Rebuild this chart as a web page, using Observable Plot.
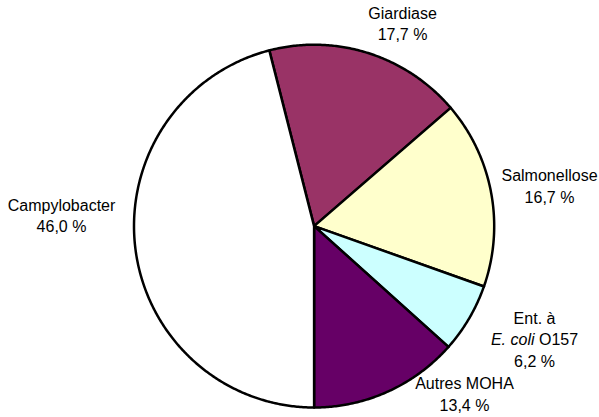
<!DOCTYPE html>
<html><head><meta charset="utf-8">
<script src="https://cdn.jsdelivr.net/npm/d3@7"></script>
<script src="https://cdn.jsdelivr.net/npm/@observablehq/plot@0.6"></script>
<style>body{margin:0;background:#fff}</style>
</head><body><div id="chart"></div>
<script>
// ---- data ----
const categories = ["Giardiase", "Salmonellose", "Ent. à E. coli O157", "Autres MOHA", "Campylobacter"];
const values = [17.7, 16.7, 6.2, 13.4, 46.0];
const colors = ["#993366", "#FFFFCC", "#CCFFFF", "#660066", "#FFFFFF"];
const labelLines = [
  [[{text: "Giardiase"}]],
  [[{text: "Salmonellose"}]],
  [[{text: "Ent. à"}], [{text: "E. coli", italic: true}, {text: "O157"}]],
  [[{text: "Autres MOHA"}]],
  [[{text: "Campylobacter"}]]
];

// ---- layout ----
const START = -14.4;            // degrees, clockwise from 12 o'clock
const LINE = 21.5;              // px between label lines
const FONT = "Liberation Sans, Arial, Helvetica, sans-serif";
const FS = 16;
const labelOffsets = [[34.4, -34.1], [58.4, -11.2], [65.4, 5.1], [76.8, -2.2], [-73.9, -38.3]];

const fmt = v => v.toFixed(1).replace(".", ",") + " %";
const rad = a => a * Math.PI / 180;
const total = d3.sum(values);

let acc = START;
const slices = categories.map((name, i) => {
  const a0 = acc, a1 = acc + values[i] / total * 360;
  acc = a1;
  return {name, a0, a1, mid: (a0 + a1) / 2, i};
});

const pts = [];
for (const s of slices) {
  pts.push({name: s.name, x: 0, y: 0});
  const n = Math.max(2, Math.ceil((s.a1 - s.a0) / 0.5));
  for (let k = 0; k <= n; ++k) {
    const a = rad(s.a0 + (s.a1 - s.a0) * k / n);
    pts.push({name: s.name, x: Math.sin(a), y: Math.cos(a)});
  }
  pts.push({name: s.name, x: 0, y: 0});
}

const ctx = document.createElement("canvas").getContext("2d");
const measure = (t, italic) => { ctx.font = `${italic ? "italic " : ""}${FS}px ${FONT}`; return ctx.measureText(t).width; };

const textMarks = [];
for (const s of slices) {
  const anchor = [{x: Math.sin(rad(s.mid)), y: Math.cos(rad(s.mid))}];
  const [ox, oy] = labelOffsets[s.i];
  const lines = [...labelLines[s.i], [{text: fmt(values[s.i])}]];
  lines.forEach((segs, li) => {
    const dy = oy + li * LINE;
    if (segs.length === 1) {
      textMarks.push(Plot.text(anchor, {x: "x", y: "y", text: () => segs[0].text, dx: ox, dy,
        textAnchor: "middle", lineAnchor: "bottom", fontSize: FS, fontFamily: FONT,
        fontStyle: segs[0].italic ? "italic" : "normal", fill: "#000"}));
    } else {
      const sp = measure(" ", false);
      const widths = segs.map(g => measure(g.text, g.italic));
      const W = d3.sum(widths) + sp * (segs.length - 1);
      let x0 = -W / 2;
      segs.forEach((g, gi) => {
        textMarks.push(Plot.text(anchor, {x: "x", y: "y", text: () => g.text, dx: ox + x0, dy,
          textAnchor: "start", lineAnchor: "bottom", fontSize: FS, fontFamily: FONT,
          fontStyle: g.italic ? "italic" : "normal", fill: "#000"}));
        x0 += widths[gi] + sp;
      });
    }
  });
}

const chart = Plot.plot({
  width: 599, height: 417,
  marginLeft: 133.5, marginRight: 105.3, marginTop: 44.2, marginBottom: 10,
  x: {domain: [-1, 1], axis: null},
  y: {domain: [-1, 1], axis: null},
  color: {type: "ordinal", domain: categories, range: colors},
  style: {fontFamily: FONT, fontSize: "16px", background: "#fff", overflow: "visible"},
  marks: [
    Plot.line(pts, {x: "x", y: "y", z: "name", fill: "name", stroke: "#000", strokeWidth: 2.5,
      strokeLinejoin: "round", curve: "linear"}),
    ...textMarks
  ]
});
document.getElementById("chart").appendChild(chart);
</script>
</body></html>
